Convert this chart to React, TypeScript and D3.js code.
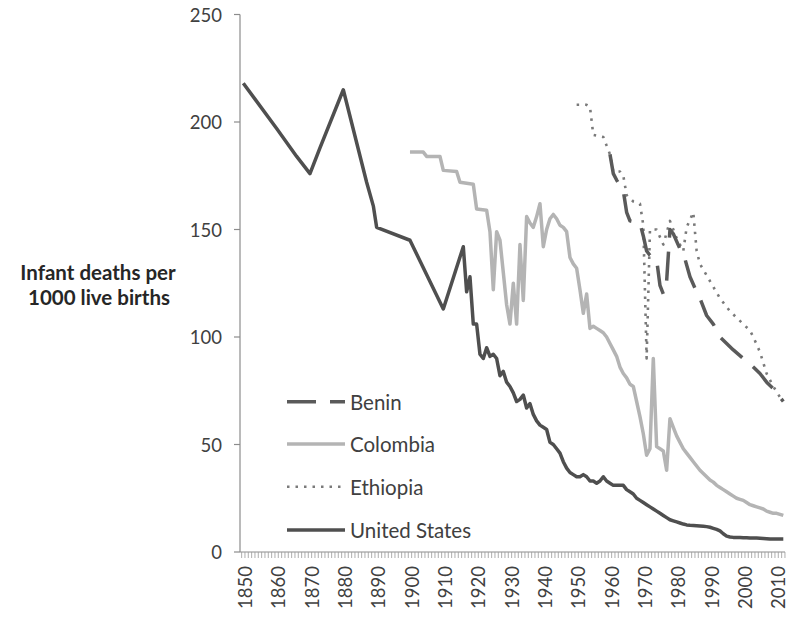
import React from 'react';
import * as d3 from 'd3';

// ---- Data ----
const usYears = [1850, 1860, 1866, 1870, 1873, 1880, 1887, 1889, 1890, 1900, 1910, 1916, 1917, 1918, 1919, 1920, 1921, 1922, 1923, 1924, 1925, 1926, 1927, 1928, 1929, 1930, 1931, 1932, 1933, 1934, 1935, 1936, 1937, 1938, 1939, 1940, 1941, 1942, 1943, 1944, 1945, 1946, 1947, 1948, 1949, 1950, 1951, 1952, 1953, 1954, 1955, 1956, 1957, 1958, 1959, 1960, 1961, 1962, 1963, 1964, 1965, 1966, 1967, 1968, 1969, 1970, 1971, 1972, 1973, 1974, 1975, 1976, 1977, 1978, 1979, 1980, 1981, 1982, 1983, 1984, 1985, 1986, 1987, 1988, 1989, 1990, 1991, 1992, 1993, 1994, 1995, 1996, 1997, 1998, 1999, 2000, 2001, 2002, 2003, 2004, 2005, 2006, 2007, 2008, 2009, 2010, 2011, 2012];
const usValues = [218, 197, 184, 176, 188, 215, 172, 161, 151, 145, 113, 142, 121, 128, 106, 106, 92, 90, 95, 91, 92, 90, 82, 84, 79, 77, 74, 70, 71, 73, 67, 69, 64, 61, 59, 58, 57, 51, 50, 48, 46, 42, 39, 37, 36, 35, 35, 36, 35, 33, 33, 32, 33, 35, 33, 32, 31, 31, 31, 31, 29, 28, 27, 25, 24, 23, 22, 21, 20, 19, 18, 17, 16, 15, 14.5, 14, 13.5, 13, 12.6, 12.4, 12.3, 12.2, 12.1, 12, 11.8, 11.5, 11, 10.5, 9.8, 8.5, 7.4, 7, 6.8, 6.7, 6.7, 6.6, 6.6, 6.5, 6.5, 6.5, 6.4, 6.3, 6.2, 6, 6, 6, 6, 6];

const colombiaYears = [1900, 1904, 1905, 1909, 1910, 1914, 1915, 1919, 1920, 1923, 1924, 1925, 1926, 1927, 1928, 1929, 1930, 1931, 1932, 1933, 1934, 1935, 1936, 1937, 1938, 1939, 1940, 1941, 1942, 1943, 1944, 1945, 1946, 1947, 1948, 1949, 1950, 1951, 1952, 1953, 1954, 1955, 1956, 1957, 1958, 1959, 1960, 1961, 1962, 1963, 1964, 1965, 1966, 1967, 1968, 1969, 1970, 1971, 1972, 1973, 1974, 1975, 1976, 1977, 1978, 1979, 1980, 1981, 1982, 1983, 1984, 1985, 1986, 1987, 1988, 1989, 1990, 1991, 1992, 1993, 1994, 1995, 1996, 1997, 1998, 1999, 2000, 2001, 2002, 2003, 2004, 2005, 2006, 2007, 2008, 2009, 2010, 2011, 2012];
const colombiaValues = [186, 186, 184, 184, 177.5, 177, 172, 171, 159.5, 159, 149, 122, 149, 145, 130, 115, 106, 125, 106, 143, 117, 156, 153, 151, 156, 162, 142, 150, 155, 157, 155, 152, 151, 149, 137, 134, 132, 122, 111, 120, 104, 105, 104, 103, 102, 100, 97, 94, 91, 86, 83, 81, 78, 77, 70, 63, 55, 45, 48, 90, 49, 48, 47, 38, 62, 58, 54, 51, 48, 46, 44, 42, 40, 38, 36.5, 35, 33.5, 32.5, 31, 30, 29, 28, 27, 26, 25, 24.5, 24, 23, 22, 21.5, 21, 20.5, 20, 19, 18.5, 18, 18, 17.5, 17];

const ethiopiaYears = [1950, 1953, 1954, 1955, 1958, 1959, 1960, 1961, 1963, 1964, 1965, 1967, 1969, 1970, 1971, 1972, 1974, 1976, 1978, 1980, 1982, 1983, 1985, 1986, 1987, 1990, 1993, 1996, 1999, 2002, 2003, 2005, 2007, 2009, 2011];
const ethiopiaValues = [208, 208, 207, 194, 193, 189, 185, 177, 177, 175, 166, 163, 162, 152, 90, 150, 150, 143, 154, 146, 140, 151, 158, 140, 134, 126, 118, 112, 107.5, 103, 100, 93, 83, 77, 72];

const beninYears = [1960, 1961, 1962, 1964, 1965, 1966, 1969, 1970, 1971, 1972, 1974, 1975, 1976, 1977, 1978, 1979, 1981, 1982, 1984, 1986, 1987, 1989, 1991, 1993, 1995, 1997, 2000, 2003, 2005, 2007, 2009, 2011, 2012];
const beninValues = [185, 176, 173, 168, 158, 154, 153, 147, 140, 138, 136, 124, 120, 126, 150, 148, 141, 139, 128, 121, 118, 110, 106, 100, 97, 94, 90, 86, 83, 79, 76, 72, 70];

const yTicks = [0, 50, 100, 150, 200, 250];
const xLabels = [1850, 1860, 1870, 1880, 1890, 1900, 1910, 1920, 1930, 1940, 1950, 1960, 1970, 1980, 1990, 2000, 2010];
const legendNames = ['Benin', 'Colombia', 'Ethiopia', 'United States'];

const FONT = 'Lato, "Open Sans", sans-serif';

export default function App() {
  const x = d3.scaleLinear().domain([1850, 2012]).range([243.3, 783.3]);
  const y = d3.scaleLinear().domain([0, 250]).range([552, 14.5]);
  const line = d3.line<[number, number]>().x(d => x(d[0])).y(d => y(d[1]));
  const zip = (ys: number[], vs: number[]) => ys.map((yr, i) => [yr, vs[i]] as [number, number]);

  const styles: Record<string, { stroke: string; width: number; dash?: string }> = {
    'Benin': { stroke: '#5a5a5a', width: 3.5, dash: '29 14' },
    'Colombia': { stroke: '#b4b4b4', width: 3.5 },
    'Ethiopia': { stroke: '#7a7a7a', width: 2.6, dash: '2.5 6' },
    'United States': { stroke: '#4f4f4f', width: 3.5 },
  };
  const series: [string, [number, number][]][] = [
    ['United States', zip(usYears, usValues)],
    ['Colombia', zip(colombiaYears, colombiaValues)],
    ['Ethiopia', zip(ethiopiaYears, ethiopiaValues)],
    ['Benin', zip(beninYears, beninValues)],
  ];

  const axisX0 = 240;
  const axisY0 = y(0);
  const tickYears = d3.range(1850, 2014);
  const legendY = [401.7, 444, 486.7, 530];

  return (
    <svg width={796} height={623} style={{ position: 'absolute', left: 0, top: 0, background: '#fff' }} fontFamily={FONT}>
      <rect width={796} height={623} fill="#fff" />
      {/* Y axis */}
      <line x1={axisX0} x2={axisX0} y1={y(250)} y2={axisY0} stroke="#8c8c8c" strokeWidth={1.2} />
      {yTicks.map(t => (
        <g key={t}>
          <line x1={axisX0 - 6} x2={axisX0} y1={y(t)} y2={y(t)} stroke="#8c8c8c" strokeWidth={1.2} />
          <text x={222} y={y(t)} textAnchor="end" dominantBaseline="central" fontSize={18.5} fill="#404040">{t}</text>
        </g>
      ))}
      {/* X axis */}
      <line x1={axisX0} x2={x(2012) + 1.7} y1={axisY0} y2={axisY0} stroke="#8c8c8c" strokeWidth={1.2} />
      {tickYears.map(yr => (
        <line key={yr} x1={x(yr) - 1.67} x2={x(yr) - 1.67} y1={axisY0} y2={axisY0 + 6} stroke="#9a9a9a" strokeWidth={0.8} />
      ))}
      {xLabels.map(yr => (
        <text key={yr} transform={`translate(${x(yr) + 1.7},${566}) rotate(-90)`} textAnchor="end" dominantBaseline="central" fontSize={18.5} fill="#404040">{yr}</text>
      ))}
      {/* Y axis title */}
      <text x={98} y={272} textAnchor="middle" dominantBaseline="central" fontSize={20.5} fontWeight="bold" fill="#262626">Infant deaths per</text>
      <text x={99} y={297} textAnchor="middle" dominantBaseline="central" fontSize={20.5} fontWeight="bold" fill="#262626">1000 live births</text>
      {/* Series */}
      {series.map(([name, pts]) => {
        const s = styles[name];
        return (
          <path key={name} d={line(pts) || ''} fill="none" stroke={s.stroke} strokeWidth={s.width}
            strokeDasharray={s.dash} strokeLinejoin="round" />
        );
      })}
      {/* Legend */}
      {legendNames.map((name, i) => {
        const s = styles[name];
        return (
          <g key={name}>
            <line x1={287} x2={345} y1={legendY[i]} y2={legendY[i]} stroke={s.stroke} strokeWidth={s.width} strokeDasharray={s.dash} />
            <text x={350} y={legendY[i]} dominantBaseline="central" fontSize={20.5} fill="#404040">{name}</text>
          </g>
        );
      })}
    </svg>
  );
}
